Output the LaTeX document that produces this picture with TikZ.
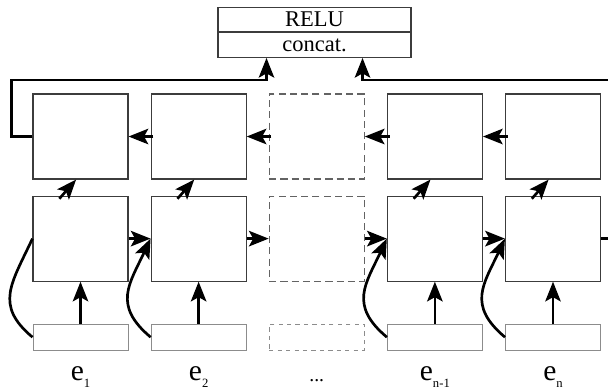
\documentclass[tikz,border=0pt]{standalone}
\usepackage{fontspec}
\setmainfont{Liberation Serif}
\usepackage{xcolor}
\definecolor{cellborder}{RGB}{60,60,60}
\definecolor{inborder}{RGB}{140,140,140}
\usetikzlibrary{positioning}
\usetikzlibrary{arrows.meta}
\newcommand{\elab}[1]{{\fontsize{21}{21}\selectfont e}\raisebox{-5pt}{\fontsize{9}{9}\selectfont #1}}

\begin{document}
\begin{tikzpicture}[
      cell style/.style={rectangle,draw=cellborder,line width=0.8pt,inner sep=0pt,
        minimum width=2.375cm,minimum height=2.125cm},
      ghost style/.style={cell style,dash pattern=on 5pt off 3pt,draw=cellborder!80},
      in style/.style={rectangle,draw=inborder,line width=0.7pt,inner sep=0pt,
        minimum width=2.375cm,minimum height=0.65cm},
      op style/.style={rectangle,draw=cellborder,line width=0.8pt,inner sep=0pt,
        minimum width=4.825cm,minimum height=0.6125cm,font=\fontsize{16}{16}\selectfont},
      lab style/.style={inner sep=0pt},
      conn/.style={line width=1.9pt,-{Stealth[length=14pt,width=11pt,inset=3pt]}},
      link/.style={line width=1.9pt}
      ]
      \useasboundingbox (0,0) rectangle (15.2,-9.775);

      % pooling on top
      \node[op style] (relu) at (7.8625,-0.4875) {RELU};
      \node[op style, below=0cm of relu] (concat) {concat.};
      \coordinate (inL) at ([xshift=-1.2cm]concat.south);
      \coordinate (inR) at ([xshift=1.2cm]concat.south);

      % backward row
      \node[cell style] (bw1) at (2.0125,-3.4125) {};
      \node[cell style, right=0.55cm of bw1] (bw2) {};
      \node[ghost style, right=0.55cm of bw2] (bw3) {};
      \node[cell style, right=0.55cm of bw3] (bw4) {};
      \node[cell style, right=0.55cm of bw4] (bw5) {};

      % forward row
      \node[cell style, below=0.4cm of bw1] (fw1) {};
      \node[cell style, below=0.4cm of bw2] (fw2) {};
      \node[ghost style, below=0.4cm of bw3] (fw3) {};
      \node[cell style, below=0.4cm of bw4] (fw4) {};
      \node[cell style, below=0.4cm of bw5] (fw5) {};

      % inputs
      \node[in style, below=1.05cm of fw1] (in1) {};
      \node[in style, below=1.05cm of fw2] (in2) {};
      \node[in style, dashed, below=1.05cm of fw3] (in3) {};
      \node[in style, below=1.05cm of fw4] (in4) {};
      \node[in style, below=1.05cm of fw5] (in5) {};

      \node[lab style, below=0.4cm of in1] (e1) {\elab{1}};
      \node[lab style, below=0.4cm of in2] (e2) {\elab{2}};
      \node[lab style, below=0.7cm of in3, font=\fontsize{14}{14}\selectfont] (edots) {...};
      \node[lab style, below=0.4cm of in4] (en1) {\elab{n-1}};
      \node[lab style, below=0.4cm of in5] (en) {\elab{n}};

      % recurrences
      \draw[conn] (fw1.east) -- (fw2.west);
      \draw[conn] (fw2.east) -- (fw3.west);
      \draw[conn] (fw3.east) -- (fw4.west);
      \draw[conn] (fw4.east) -- (fw5.west);
      \draw[conn, shorten <=-2pt] (bw5.west) -- (bw4.east);
      \draw[conn, shorten <=-2pt] (bw4.west) -- (bw3.east);
      \draw[conn, shorten <=-2pt] (bw3.west) -- (bw2.east);
      \draw[conn, shorten <=-2pt] (bw2.west) -- (bw1.east);

      \foreach \i in {1,2,4,5} {
        \draw[conn] (in\i.north) -- (fw\i.south);
        \draw[conn, shorten <=-3pt] ([xshift=-0.46cm]fw\i.north) -- ([xshift=-0.11cm]bw\i.south);
      }
      \draw[link] (in1.west) to[out=140,in=245,looseness=1.3] (fw1.west);
      \foreach \i in {2,4,5}
        \draw[conn] (in\i.west) to[out=140,in=245,looseness=1.3] (fw\i.west);

      % to the pooling
      \draw[conn] (bw1.west) -- ++(-0.525,0) |- ([yshift=-0.55cm]inL) -- (inL);
      \draw[conn] (fw5.east) -- ++(0.4,0) |- ([yshift=-0.55cm]inR) -- (inR);
    \end{tikzpicture}
\end{document}
